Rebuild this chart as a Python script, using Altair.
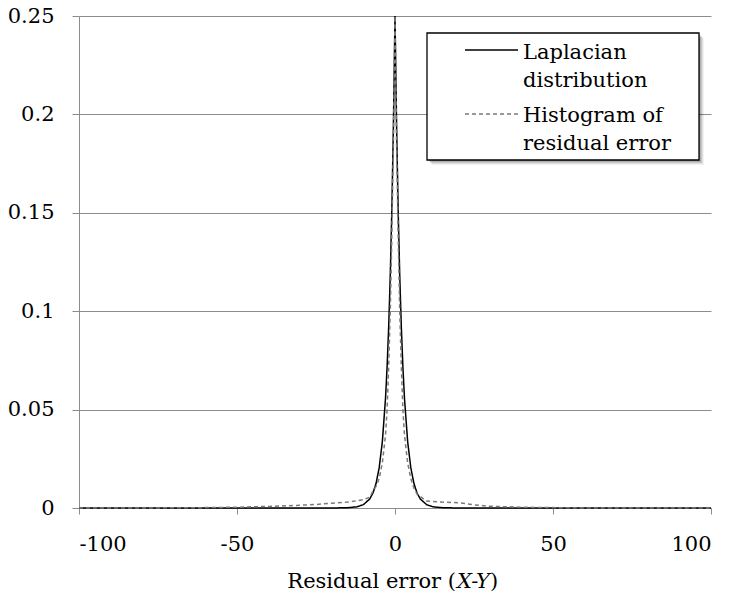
import altair as alt
import pandas as pd

# ---- data ----
series_names = ["Laplacian distribution", "Histogram of residual error"]

lap_x = [-100, -60, -40, -30, -20, -15, -12, -10, -8, -7, -6, -5, -4, -3, -2.5, -2, -1.5, -1, -0.5, 0,
         0.5, 1, 1.5, 2, 2.5, 3, 4, 5, 6, 7, 8, 10, 12, 15, 20, 30, 40, 60, 100]
lap_y = [0, 0, 0, 0, 0.00001, 0.00014, 0.0006, 0.0017, 0.0046, 0.0075, 0.0124, 0.0205, 0.0338, 0.0558,
         0.0716, 0.092, 0.1181, 0.1516, 0.1947, 0.25,
         0.1947, 0.1516, 0.1181, 0.092, 0.0716, 0.0558, 0.0338, 0.0205, 0.0124, 0.0075, 0.0046, 0.0017,
         0.0006, 0.00014, 0.00001, 0, 0, 0, 0]

hist_x = [-100, -80, -60, -50, -40, -30, -25, -20, -15, -10, -8, -7, -6, -5, -4, -3, -2.5, -2, -1.5, -1, -0.5, 0,
          0.5, 1, 1.5, 2, 2.5, 3, 4, 5, 6, 7, 8, 10, 15, 20, 25, 30, 40, 50, 60, 80, 100]
hist_y = [0, 0, 0.0002, 0.0004, 0.0008, 0.0014, 0.0018, 0.0024, 0.003, 0.0042, 0.0055, 0.0085, 0.011, 0.015,
          0.023, 0.037, 0.05, 0.072, 0.1, 0.138, 0.185, 0.25,
          0.185, 0.138, 0.1, 0.072, 0.05, 0.037, 0.023, 0.015, 0.01, 0.007, 0.0058, 0.0035, 0.003, 0.0027,
          0.0016, 0.0009, 0.0004, 0.0002, 0, 0, 0]

x_ticks = [-100, -50, 0, 50, 100]
y_ticks = [0, 0.05, 0.1, 0.15, 0.2, 0.25]

legend_lines = [["Laplacian", "distribution"], ["Histogram of", "residual error"]]
title_parts = ["Residual error (", "X-Y", ")"]

df = pd.concat([
    pd.DataFrame({"x": lap_x, "y": lap_y, "series": series_names[0]}),
    pd.DataFrame({"x": hist_x, "y": hist_y, "series": series_names[1]}),
], ignore_index=True)

FONT = "DejaVu Serif"
FS = 21
W, H = 632, 492
GRID = "#8c8c8c"

lines = alt.Chart(df).mark_line(strokeWidth=1.5).encode(
    x=alt.X("x:Q", scale=alt.Scale(domain=[-100, 100], nice=False),
            axis=alt.Axis(values=x_ticks, title=None, grid=False, labelExpr="'' + datum.value",
                          tickSize=6, labelPadding=19, domainColor=GRID, tickColor=GRID)),
    y=alt.Y("y:Q", scale=alt.Scale(domain=[0, 0.25], nice=False),
            axis=alt.Axis(values=y_ticks, title=None, grid=True, format=".2~f",
                          tickSize=7, labelPadding=18, domainColor=GRID, tickColor=GRID,
                          gridColor=GRID)),
    color=alt.Color("series:N", scale=alt.Scale(domain=series_names, range=["#000000", "#7a7a7a"]),
                    legend=None),
    strokeDash=alt.StrokeDash("series:N", scale=alt.Scale(domain=series_names, range=[[1, 0], [4, 3]]),
                              legend=None),
)

one = alt.Data(values=[{}])

# legend box with soft shadow
shadows = [
    alt.Chart(one).mark_rect(fill="#000000", opacity=op).encode(
        x=alt.value(348 + d), x2=alt.value(620 + d), y=alt.value(17 + d), y2=alt.value(144 + d))
    for d, op in [(1, 0.12), (2, 0.12), (3, 0.1), (4, 0.08), (5, 0.05)]
]
box = alt.Chart(one).mark_rect(fill="white", stroke="black", strokeWidth=1.3).encode(
    x=alt.value(348), x2=alt.value(620), y=alt.value(17), y2=alt.value(144))
sym1 = alt.Chart(one).mark_rule(color="#000000", strokeWidth=1.5).encode(
    x=alt.value(386), x2=alt.value(439), y=alt.value(34))
sym2 = alt.Chart(one).mark_rule(color="#7a7a7a", strokeWidth=1.5, strokeDash=[4, 3]).encode(
    x=alt.value(386), x2=alt.value(439), y=alt.value(98))
txt1 = alt.Chart(one).mark_text(align="left", baseline="alphabetic", font=FONT, fontSize=FS,
                                lineHeight=28, color="black").encode(
    x=alt.value(444), y=alt.value(43), text=alt.value(legend_lines[0]))
txt2 = alt.Chart(one).mark_text(align="left", baseline="alphabetic", font=FONT, fontSize=FS,
                                lineHeight=28, color="black").encode(
    x=alt.value(444), y=alt.value(106), text=alt.value(legend_lines[1]))

# x axis title with italic X-Y
X0 = 377
TY = 572
t1 = alt.Chart(one).mark_text(align="right", baseline="alphabetic", font=FONT, fontSize=FS,
                              color="black").encode(x=alt.value(X0), y=alt.value(TY),
                                                     text=alt.value(title_parts[0]))
t2 = alt.Chart(one).mark_text(align="left", baseline="alphabetic", font=FONT, fontSize=FS,
                              fontStyle="italic", color="black").encode(
    x=alt.value(X0 + 1), y=alt.value(TY), text=alt.value(title_parts[1]))
t3 = alt.Chart(one).mark_text(align="left", baseline="alphabetic", font=FONT, fontSize=FS,
                              color="black").encode(x=alt.value(X0 + 34), y=alt.value(TY),
                                                     text=alt.value(title_parts[2]))

chart = alt.layer(lines, *shadows, box, sym1, sym2, txt1, txt2, t1, t2, t3).properties(
    width=W, height=H, autosize="none",
    padding={"left": 71, "top": 8, "right": 13, "bottom": 95},
).configure_view(stroke=None).configure_axis(
    labelFont=FONT, labelFontSize=FS, labelColor="black", gridWidth=1, domainWidth=1, tickWidth=1,
)

chart.save("out.html", embed_options={"renderer": "svg", "actions": False})
